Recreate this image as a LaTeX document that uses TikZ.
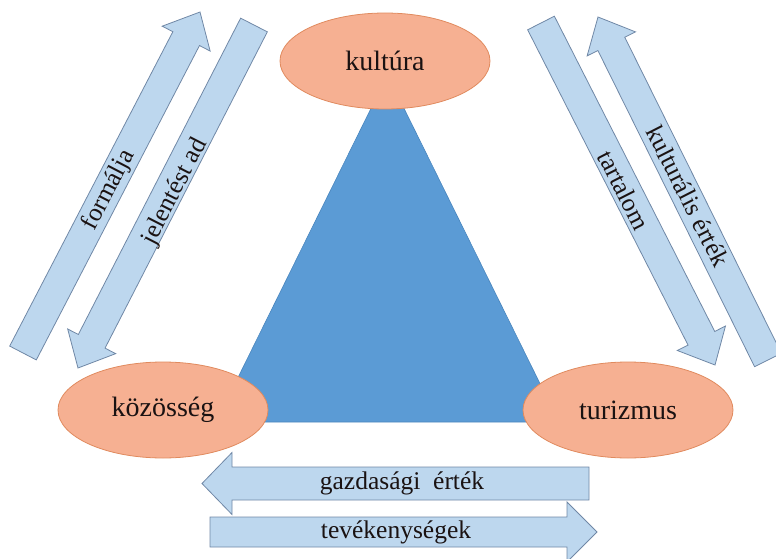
\documentclass[tikz,border=0pt]{standalone}
\usepackage{fontspec}
\IfFontExistsTF{LiberationSerif-Regular.ttf}
  {\newfontfamily\tnr{LiberationSerif-Regular.ttf}}
  {\newfontfamily\tnr{Latin Modern Roman}}
\usetikzlibrary{calc,shapes.geometric}
\definecolor{ovalfill}{HTML}{F6B092}
\definecolor{ovaldraw}{HTML}{E08A5E}
\definecolor{trifill}{HTML}{5B9BD5}
\definecolor{tridraw}{HTML}{4A86BE}
\definecolor{arrfill}{HTML}{BDD7EE}
\definecolor{arrdraw}{HTML}{7088A6}
\definecolor{txt}{HTML}{1A1212}
\tikzset{
  oval/.style={ellipse, fill=ovalfill, draw=ovaldraw, line width=0.8pt,
    minimum width=210pt, minimum height=96pt, inner sep=0pt, text=txt,
    font=\tnr\fontsize{28}{30}\selectfont},
  blockarr/.style={fill=arrfill, draw=arrdraw, line width=0.8pt, line join=miter},
  arrlabel/.style={inner sep=0pt, text=txt, font=\tnr\fontsize{25.5}{27}\selectfont},
}
% #1 tail, #2 tip, #3 shaft half width, #4 head half width, #5 head length
\newcommand{\blockarrow}[5]{%
  \path[blockarr]
    ($(#1)!#3!90:(#2)$) --
    ($($(#2)!#5!(#1)$)!#3!-90:(#1)$) --
    ($($(#2)!#5!(#1)$)!#4!-90:(#1)$) --
    (#2) --
    ($($(#2)!#5!(#1)$)!#4!90:(#1)$) --
    ($($(#2)!#5!(#1)$)!#3!90:(#1)$) --
    ($(#1)!#3!-90:(#2)$) -- cycle;
}
\begin{document}
\begin{tikzpicture}[x=1pt,y=-1pt]
\useasboundingbox (0,0) rectangle (776,559);
% arrow end points
\coordinate (fT) at (23,353);  \coordinate (fH) at (200,12);
\coordinate (jT) at (254,25);  \coordinate (jH) at (78,368);
\coordinate (tT) at (541,23);  \coordinate (tH) at (715,365);
\coordinate (kT) at (768,360); \coordinate (kH) at (598,17);
\coordinate (gT) at (589,483.5); \coordinate (gH) at (202,483.5);
\coordinate (vT) at (210,532); \coordinate (vH) at (597,532);
\blockarrow{fT}{fH}{15pt}{27pt}{30pt}
\blockarrow{jT}{jH}{15pt}{27pt}{30pt}
\blockarrow{tT}{tH}{15pt}{27pt}{30pt}
\blockarrow{kT}{kH}{15pt}{27pt}{30pt}
\blockarrow{gT}{gH}{16.5pt}{31pt}{30pt}
\blockarrow{vT}{vH}{15pt}{30pt}{30pt}
% triangle
\coordinate (tA) at (387.5,75);
\coordinate (tL) at (216,422);
\coordinate (tR) at (559,422);
\path[fill=trifill, draw=tridraw, line width=0.6pt] (tA) -- (tL) -- (tR) -- cycle;
% ovals
\node[oval] (kul) at (385,61) {kultúra};
\node[oval] (koz) at (163,410) {közösség};
\node[oval] (tur) at (628,410) {turizmus};
% labels
\node[arrlabel, rotate=62.6] (lf) at (109,190) {formálja};
\node[arrlabel, rotate=62.8] (lj) at (175,192) {jelentést ad};
\node[arrlabel, rotate=-63] (lt) at (624,190) {tartalom};
\node[arrlabel, rotate=-63] (lk) at (688,196) {kulturális érték};
\node[arrlabel] (lg) at (402,483) {gazdasági\ \ érték};
\node[arrlabel] (lv) at (396,532) {tevékenységek};
\end{tikzpicture}
\end{document}
